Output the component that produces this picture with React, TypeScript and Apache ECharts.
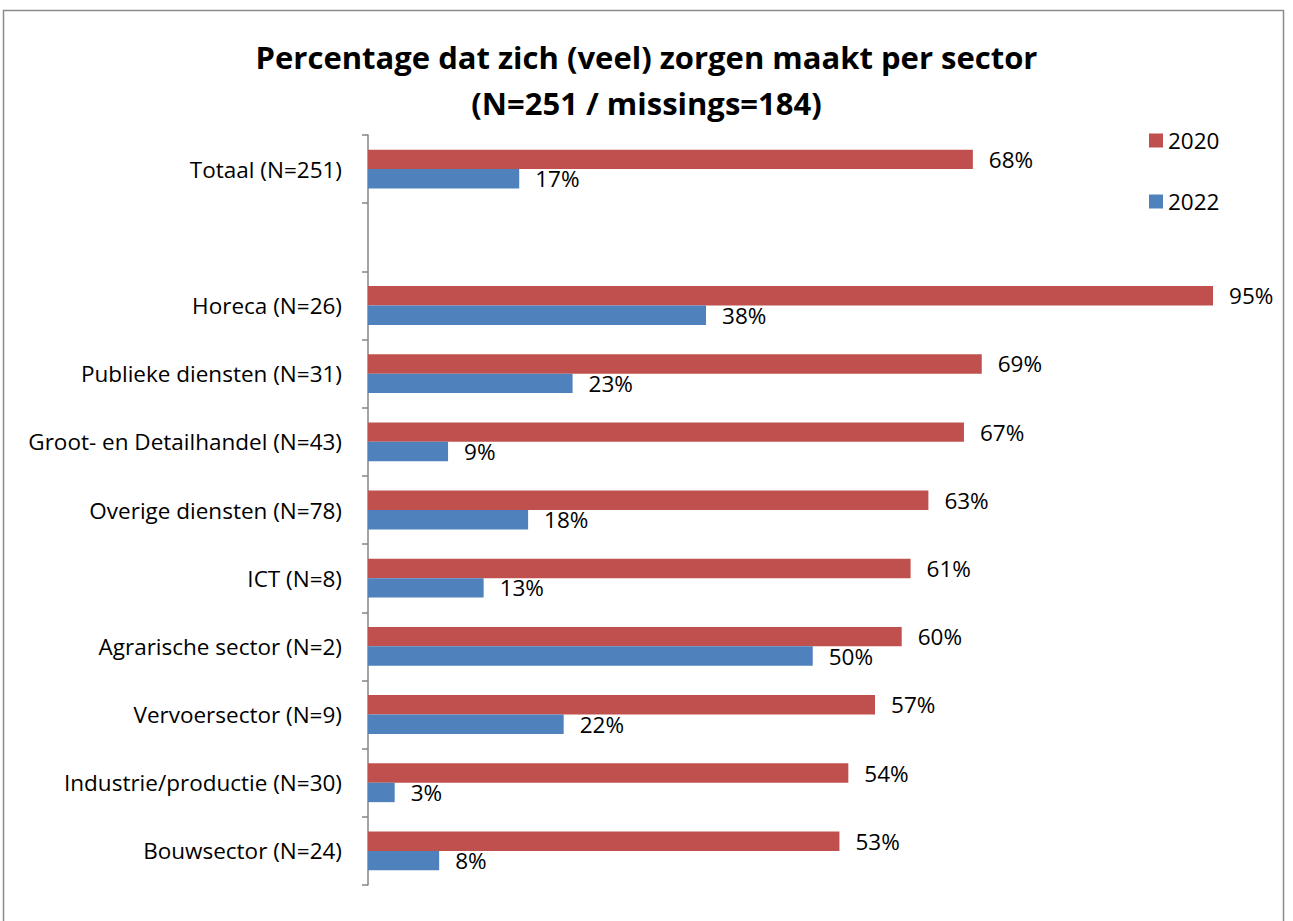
import React, { useEffect, useRef } from "react";
import * as echarts from "echarts";

const categories = [
  "Totaal (N=251)",
  "",
  "Horeca (N=26)",
  "Publieke diensten (N=31)",
  "Groot- en Detailhandel (N=43)",
  "Overige diensten (N=78)",
  "ICT (N=8)",
  "Agrarische sector (N=2)",
  "Vervoersector (N=9)",
  "Industrie/productie (N=30)",
  "Bouwsector (N=24)",
];
const values2020: (number | null)[] = [68, null, 95, 69, 67, 63, 61, 60, 57, 54, 53];
const values2022: (number | null)[] = [17, null, 38, 23, 9, 18, 13, 50, 22, 3, 8];
const titleLines = ["Percentage dat zich (veel) zorgen maakt per sector", "(N=251 / missings=184)"];

const FONT = "'Open Sans', sans-serif";

export default function App() {
  const ref = useRef<HTMLDivElement>(null);
  useEffect(() => {
    if (!ref.current) return;
    const chart = echarts.init(ref.current, null, { renderer: "svg" });
    const label = {
      show: true,
      position: "right" as const,
      distance: 16,
      formatter: (p: any) => (p.value == null ? "" : p.value + "%"),
      color: "#000",
      fontSize: 22.5,
      fontFamily: FONT,
    };
    chart.setOption({
      animation: false,
      backgroundColor: "#fff",
      title: {
        text: titleLines.join("\n"),
        left: "center",
        top: 29,
        textStyle: {
          fontFamily: FONT,
          fontWeight: "bold",
          fontSize: 31,
          lineHeight: 46,
          color: "#000",
        },
      },
      legend: {
        orient: "vertical",
        left: 1144,
        top: 124,
        itemWidth: 14,
        itemHeight: 14,
        itemGap: 38,
        icon: "rect",
        textStyle: { fontFamily: FONT, fontSize: 22.5, color: "#000" },
        data: ["2020", "2022"],
      },
      grid: { left: 368, right: 35.5, top: 135, bottom: 36 },
      xAxis: {
        type: "value",
        min: 0,
        max: 100,
        show: false,
      },
      yAxis: {
        type: "category",
        inverse: true,
        data: categories,
        axisLine: { show: true, lineStyle: { color: "#868686", width: 1.5 } },
        axisTick: { show: true, length: 6, lineStyle: { color: "#868686", width: 1.5 } },
        axisLabel: { fontFamily: FONT, fontSize: 22.5, color: "#000", margin: 26 },
      },
      graphic: [
        {
          type: "rect",
          shape: { x: 3.5, y: 10.5, width: 1280, height: 930 },
          style: { fill: "none", stroke: "#8c8c8c", lineWidth: 1.5 },
          silent: true,
        },
      ],
      series: [
        {
          name: "2020",
          type: "bar",
          data: values2020,
          itemStyle: { color: "#C0504D" },
          barGap: "0%",
          barCategoryGap: "43%",
          label,
        },
        {
          name: "2022",
          type: "bar",
          data: values2022,
          itemStyle: { color: "#4F81BD" },
          label,
        },
      ],
    });
    return () => chart.dispose();
  }, []);
  return (
    <div
      ref={ref}
      style={{ position: "absolute", left: 0, top: 0, width: 1293, height: 921 }}
    />
  );
}
